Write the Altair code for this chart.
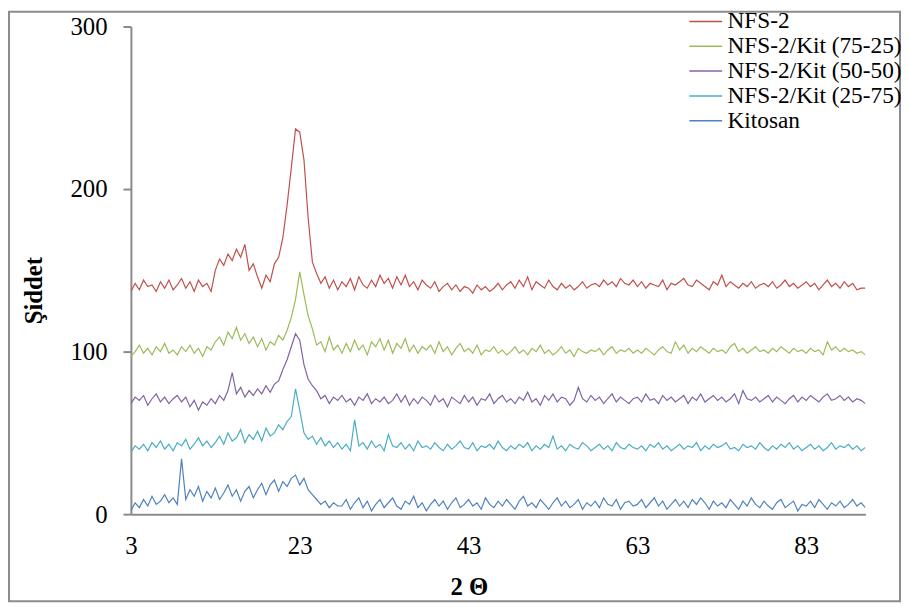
import altair as alt
import pandas as pd

# 2-theta grid: 3.0 .. 90.0 step 0.5 (175 points)
two_theta = [3 + 0.5 * i for i in range(175)]

series_names = ["NFS-2", "NFS-2/Kit (75-25)", "NFS-2/Kit (50-50)", "NFS-2/Kit (25-75)", "Kitosan"]
series_colors = ["#C0504D", "#9BBB59", "#8064A2", "#4BACC6", "#4F81BD"]

nfs2 = [
    137, 142, 138, 144, 140, 141, 137, 143, 139, 144,
    138, 141, 145, 139, 143, 137, 144, 140, 142, 137,
    150, 157, 153, 160, 156, 163, 158, 166, 150, 154,
    146, 139, 147, 143, 154, 158, 170, 190, 213, 237,
    235, 218, 182, 155, 148, 142, 146, 139, 144, 138,
    143, 140, 145, 138, 146, 141, 139, 144, 140, 147,
    142, 145, 139, 146, 141, 147, 140, 143, 138, 144,
    141, 139, 143, 137, 140, 142, 138, 141, 137, 140,
    139, 136, 141, 138, 140, 137, 139, 142, 138, 141,
    143, 139, 144, 140, 146, 138, 143, 141, 139, 144,
    140, 138, 142, 139, 141, 138, 140, 143, 139, 141,
    142, 140, 144, 141, 143, 140, 145, 142, 141, 144,
    140, 143, 139, 142, 141, 140, 144, 138, 142, 141,
    143, 145, 141, 140, 144, 142, 140, 138, 143, 141,
    147, 140, 143, 141, 139, 142, 140, 143, 139, 141,
    142, 140, 143, 139, 141, 144, 140, 142, 139, 141,
    143, 140, 142, 138, 141, 144, 140, 142, 139, 143,
    140, 142, 138, 139, 139,
]

kit_75_25 = [
    97, 100, 104, 99, 102, 98, 103, 100, 105, 99,
    101, 98, 103, 100, 104, 99, 102, 97, 103, 101,
    106, 109, 104, 112, 108, 115, 107, 111, 105, 109,
    103, 108, 101, 106, 104, 110, 107, 113, 121, 132,
    149, 135, 122, 114, 104, 106, 100, 109, 101, 104,
    99, 105, 100, 107, 101, 104, 98, 106, 103, 108,
    101, 107, 99, 105, 102, 108, 100, 104, 99, 103,
    101, 104, 99, 106, 100, 103, 98, 102, 105, 100,
    102, 99, 104, 98, 101, 100, 103, 99, 101, 98,
    100, 103, 99, 101, 98, 102, 100, 104, 99, 101,
    98, 100, 103, 99, 101, 97, 102, 100, 99, 101,
    100, 102, 98, 101, 103, 99, 101, 100, 102, 99,
    101, 99, 102, 100, 98, 101, 103, 100, 99, 106,
    101, 104, 99, 102, 100, 103, 101, 99, 102, 100,
    101, 99, 103, 105, 100, 102, 99, 101, 103, 100,
    101, 99, 102, 100, 103, 101, 99, 102, 100, 101,
    99, 102, 100, 101, 98, 106, 101, 103, 100, 102,
    100, 101, 99, 100, 98,
]

kit_50_50 = [
    68, 72, 70, 73, 67, 71, 74, 69, 72, 68,
    71, 73, 69, 72, 66, 70, 64, 69, 67, 71,
    68, 73, 70, 76, 87, 74, 78, 72, 76, 73,
    77, 74, 79, 75, 80, 82, 89, 95, 103, 111,
    107, 92, 83, 79, 76, 71, 73, 68, 72, 70,
    73, 69, 71, 67, 72, 70, 74, 68, 71, 69,
    72, 68, 70, 74, 69, 73, 67, 71, 68, 72,
    70, 67, 73, 69, 71, 66, 72, 70, 68, 73,
    69, 72, 67, 71, 70, 74, 68, 71, 73, 69,
    71, 68, 72, 70, 75, 69, 71, 67, 73, 70,
    74, 69, 72, 71, 67, 70, 78, 71, 69, 73,
    70, 72, 68, 71, 74, 69, 72, 70, 68, 71,
    72, 69, 74, 70, 71, 68, 73, 70, 72, 69,
    71, 73, 68, 72, 70, 74, 69, 71, 73, 70,
    72, 69, 71, 74, 68, 76, 71, 70, 72, 69,
    71, 73, 69, 72, 70, 68, 71, 73, 69, 72,
    70, 73, 71, 69, 72, 74, 70, 71, 73, 70,
    72, 69, 71, 70, 68,
]

kit_25_75 = [
    38, 42, 40, 43, 39, 44, 41, 45, 40, 43,
    39, 44, 42, 46, 40, 43, 47, 42, 45, 41,
    44, 48, 43, 50, 45, 47, 52, 44, 49, 46,
    51, 45, 53, 48, 50, 55, 52, 57, 60, 77,
    64, 50, 46, 48, 43, 47, 42, 45, 41, 44,
    40, 43, 39, 58, 42, 44, 40, 45, 41, 43,
    39, 49, 42, 41, 44, 40, 43, 39, 45, 41,
    42, 40, 44, 41, 39, 43, 40, 42, 45, 41,
    40, 44, 39, 42, 41, 43, 40, 45, 41, 39,
    42, 40, 43, 41, 44, 39, 42, 40, 43, 41,
    48, 40, 42, 39, 43, 41, 40, 44, 42, 39,
    41, 43, 40, 42, 39, 44, 41, 40, 43, 41,
    40, 42, 39, 43, 41, 44, 40, 42, 39, 41,
    43, 40, 42, 41, 44, 39, 42, 40, 43, 41,
    42, 44, 40, 41, 39, 43, 41, 42, 40, 44,
    41, 39, 42, 40, 43, 41, 44, 40, 42, 39,
    41, 43, 40, 42, 39, 41, 44, 40, 42, 41,
    43, 40, 42, 39, 41,
]

kitosan = [
    2, 7, 4, 9, 5, 11, 6, 8, 12, 7,
    10, 6, 34, 9, 15, 11, 17, 8, 14, 10,
    16, 9, 13, 18, 11, 15, 8, 14, 17, 10,
    15, 19, 12, 18, 21, 14, 20, 17, 22, 24,
    18, 22, 15, 12, 9, 6, 8, 4, 7, 5,
    5, 9, 3, 7, 10, 4, 8, 2, 6, 9,
    4, 7, 10, 5, 3, 8, 6, 11, 4, 7,
    2, 6, 9, 5, 8, 3, 7, 10, 4, 6,
    9, 5, 7, 3, 10, 6, 4, 8, 5, 9,
    6, 3, 8, 11, 5, 7, 4, 9, 6, 3,
    7, 10, 5, 8, 4, 6, 9, 3, 7, 5,
    8, 4, 10, 6, 5, 9, 3, 7, 8, 5,
    6, 9, 4, 7, 10, 5, 8, 3, 6, 9,
    5, 8, 4, 9, 6, 10, 7, 3, 8, 5,
    7, 4, 9, 6, 3, 8, 5, 10, 6, 4,
    8, 5, 3, 7, 9, 4, 6, 8, 2, 6,
    5, 8, 4, 9, 6, 3, 7, 5, 8, 4,
    6, 9, 5, 7, 4,
]

x_ticks = [3, 23, 43, 63, 83]
y_ticks = [0, 100, 200, 300]

all_values = [nfs2, kit_75_25, kit_50_50, kit_25_75, kitosan]
rows = []
for name, vals in zip(series_names, all_values):
    for xv, yv in zip(two_theta, vals):
        rows.append({"x": xv, "y": yv, "series": name})
df = pd.DataFrame(rows)

FONT = "'Times New Roman', 'Liberation Serif', serif"
AXIS_COLOR = "#8A8A8A"

lines = alt.Chart(df).mark_line(strokeWidth=1.2, clip=True).encode(
    x=alt.X(
        "x:Q",
        scale=alt.Scale(domain=[3, 90], nice=False, zero=False),
        axis=alt.Axis(
            values=x_ticks, title="2 Θ", grid=False, ticks=False, tickSize=0,
            labelPadding=20, labelFontSize=25, labelFont=FONT, labelColor="black",
            labelFlush=False,
            domainColor=AXIS_COLOR, domainWidth=2,
            titleFont=FONT, titleFontSize=25, titleFontWeight="bold", titleColor="black",
            titleX=341, titleY=81, titleBaseline="alphabetic", titleAnchor="start",
            titleAlign="center",
        ),
    ),
    y=alt.Y(
        "y:Q",
        scale=alt.Scale(domain=[0, 300], nice=False),
        axis=alt.Axis(
            values=y_ticks, title="Şiddet", grid=False, tickSize=8, tickColor=AXIS_COLOR,
            tickWidth=2, labelPadding=16, labelFontSize=25, labelFont=FONT, labelColor="black",
            labelFlush=False,
            domainColor=AXIS_COLOR, domainWidth=2,
            titleFont=FONT, titleFontSize=25, titleFontWeight="bold", titleColor="black",
            titleX=-90, titleY=266, titleBaseline="alphabetic", titleAngle=-90,
            titleAlign="center",
        ),
    ),
    color=alt.Color(
        "series:N",
        sort=series_names,
        scale=alt.Scale(domain=series_names, range=series_colors),
        legend=alt.Legend(
            title=None, orient="none", legendX=567, legendY=-18,
            symbolType="M-1.35,0H1.35", symbolSize=600, symbolStrokeWidth=1.5,
            labelFont=FONT, labelFontSize=23.5, labelColor="black", labelOffset=9,
            rowPadding=0, labelLimit=400,
        ),
    ),
    detail="series:N",
)

frame = alt.Chart(pd.DataFrame({"a": [0]})).mark_rect(
    fill="transparent", stroke="#8C8C8C", strokeWidth=2, clip=False
).encode(
    x=alt.value(-123), x2=alt.value(776), y=alt.value(-15), y2=alt.value(580)
)

chart = alt.layer(frame, lines).properties(
    width=741, height=492,
    padding={"left": 124, "top": 16, "right": 37, "bottom": 89},
    autosize=alt.AutoSizeParams(type="none"),
).configure_view(stroke=None)

chart.save("out.html", embed_options={"renderer": "svg", "actions": False})
